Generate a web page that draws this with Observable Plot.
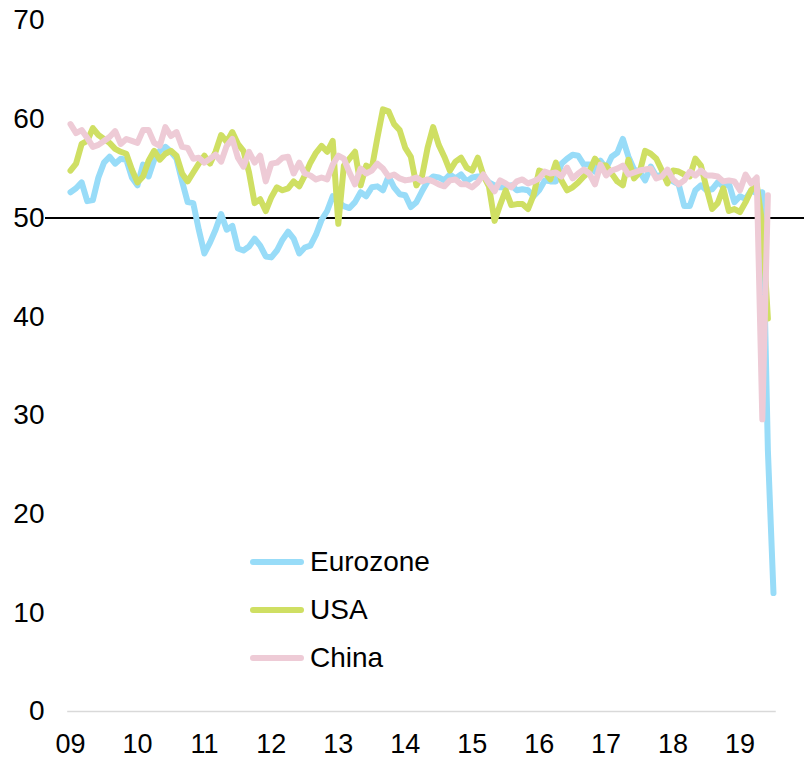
<!DOCTYPE html>
<html><head><meta charset="utf-8">
<script src="https://cdn.jsdelivr.net/npm/d3@7"></script>
<script src="https://cdn.jsdelivr.net/npm/@observablehq/plot@0.6"></script>
<style>
body{margin:0;background:#fff;font-family:"Liberation Sans",Arial,sans-serif;}
#wrap{position:relative;width:804px;height:759px;}
#legend{position:absolute;left:250px;top:538px;}
.item{display:flex;align-items:center;height:48px;font-size:28px;color:#000;line-height:1;}
.sw{width:54px;height:6px;border-radius:3px;margin-right:6px;}
</style></head><body><div id="wrap"><div id="chart"></div><div id="legend"></div></div>
<script>
const seriesNames = ["Eurozone", "USA", "China"];
const seriesColors = ["#98dcf8", "#cfdf63", "#eecbd6"];

// Monthly values, first point = first category (label "09")
const eurozone = [52.6, 53.0, 53.6,
  51.7, 51.8, 54.1, 55.6, 56.2, 55.5, 56.0, 55.9, 54.1, 53.3, 55.4, 54.2,
  55.9, 56.8, 57.2, 56.7, 56.0, 53.7, 51.6, 51.5, 48.8, 46.4, 47.5, 48.8,
  50.4, 48.8, 49.2, 46.9, 46.7, 47.1, 47.9, 47.2, 46.1, 46.0, 46.7, 47.8,
  48.6, 47.9, 46.4, 47.0, 47.2, 48.3, 49.8, 50.7, 52.2, 51.6, 51.2, 51.0,
  51.6, 52.6, 52.2, 53.1, 53.2, 52.8, 54.2, 53.1, 52.4, 52.3, 51.1, 51.6,
  52.7, 53.7, 54.2, 54.1, 53.8, 54.4, 54.0, 54.4, 53.7, 54.1, 54.2, 54.2,
  53.6, 53.3, 53.1, 53.1, 53.3, 52.8, 52.9, 52.8, 52.2, 52.8, 53.8, 53.7,
  53.7, 55.5, 56.0, 56.4, 56.3, 55.4, 55.4, 54.7, 55.8, 55.0, 56.2, 56.6,
  58.0, 56.2, 54.9, 54.7, 53.8, 55.2, 54.2, 54.4, 54.7, 53.7, 53.4, 51.2,
  51.2, 52.8, 53.3, 52.8, 52.9, 53.6, 53.2, 53.5, 51.6, 52.2, 51.9, 52.8,
  52.5, 52.6, 26.4, 12.0];

const usa = [54.8, 55.5, 57.5, 57.8, 59.1, 58.4, 58.0, 57.6, 57.0, 56.7,
  56.5, 54.9, 53.6, 54.2, 55.8, 56.8, 55.9, 56.5, 56.8, 56.3,
  54.5, 53.7, 54.6, 55.5, 56.3, 55.5, 56.7, 58.4, 57.7, 58.7,
  57.5, 56.8, 54.6, 51.5, 51.9, 50.7, 52.1, 53.1, 52.8, 53.0,
  53.7, 53.2, 54.3, 55.6, 56.6, 57.3, 56.7, 57.8, 49.4, 55.3, 56.0,
  56.7, 53.3, 55.3, 55.0, 58.1, 61.0, 60.8, 59.5, 58.9, 57.1, 56.2, 53.3,
  54.2, 57.1, 59.2, 57.4, 56.2, 54.8, 55.7, 56.1, 55.1, 54.8, 56.1, 54.3,
  53.2, 49.7, 51.3, 52.8, 51.3, 51.4, 51.4, 50.9, 52.3, 54.8, 54.6, 53.9,
  55.6, 53.8, 52.8, 53.1, 53.6, 54.2, 54.7, 56.0, 55.3, 55.3, 54.5, 53.7,
  53.3, 55.9, 54.0, 54.6, 56.8, 56.5, 56.0, 54.8, 53.5, 54.8, 54.7, 54.4,
  54.2, 56.0, 55.3, 53.0, 50.9, 51.5, 53.0, 50.7, 50.9, 50.6, 51.6, 52.8,
  53.4, 49.4, 39.8];

const china = [59.5, 58.6, 58.9, 58.1, 57.2, 57.4, 57.8, 58.2, 58.8, 57.5,
  58.0, 57.8, 57.6, 58.9, 58.9, 57.6, 57.3, 59.2, 58.3, 58.7,
  57.2, 57.1, 56.0, 56.1, 55.6, 56.0, 56.4, 55.7, 57.3, 58.0,
  56.1, 55.2, 56.7, 55.6, 56.3, 53.7, 55.5, 55.6, 56.1,
  56.2, 54.5, 55.6, 54.5, 54.3, 53.9, 54.1, 53.9, 55.4, 56.3, 56.0, 54.6,
  53.4, 55.0, 54.5, 54.8, 55.5, 55.0, 54.2, 54.4, 54.0, 53.8, 53.9, 54.1,
  53.7, 53.9, 53.7, 53.4, 53.2, 53.8, 53.9, 53.4, 53.4, 53.1, 53.6, 54.4,
  53.5, 52.7, 53.8, 53.5, 53.1, 53.7, 53.9, 53.5, 53.7, 54.0, 54.7, 54.5,
  54.6, 54.2, 55.1, 54.0, 54.5, 54.9, 54.5, 53.4, 55.4, 54.3, 54.8, 55.0,
  55.3, 54.4, 54.6, 54.8, 54.9, 55.0, 54.0, 54.2, 54.9, 53.9, 53.4, 53.8,
  54.7, 54.3, 54.8, 54.3, 54.3, 54.2, 53.7, 53.8, 53.7, 52.8, 54.4, 53.5,
  54.1, 29.6, 52.3];

const xTickIndex = [0, 12, 24, 36, 48, 60, 72, 84, 96, 108, 120];
const xTickLabels = ["09", "10", "11", "12", "13", "14", "15", "16", "17", "18", "19"];
const yTicks = [0, 10, 20, 30, 40, 50, 60, 70];
const threshold = 50;

const allSeries = [eurozone, usa, china];
const toRows = (vals, name) => vals.map((v, i) => ({series: name, i, value: v}));
const nCat = eurozone.length;

const font = '"Liberation Sans", Arial, sans-serif';
const chart = Plot.plot({
  width: 804,
  height: 759,
  marginLeft: 45,
  marginRight: 0,
  marginTop: 20,
  marginBottom: 48,
  x: {domain: [-4.48, 131.56]},
  y: {domain: [0, 70]},
  style: {fontFamily: font, fontSize: "28px", background: "#fff", color: "#000"},
  marks: [
    Plot.axisY({ticks: yTicks, tickSize: 0, tickPadding: 1, label: null, fontSize: 28}),
    Plot.axisX({ticks: xTickIndex, tickFormat: d => xTickLabels[xTickIndex.indexOf(d)], tickSize: 0, tickPadding: 22, label: null, fontSize: 27}),
    Plot.ruleY([0], {x1: -0.5, x2: nCat - 0.5, stroke: "#d9d9d9", strokeWidth: 1.5}),
    Plot.ruleY([threshold], {stroke: "#000", strokeWidth: 2}),
    ...allSeries.map((vals, k) => Plot.line(toRows(vals, seriesNames[k]), {
      x: "i", y: "value", stroke: seriesColors[k], strokeWidth: 6,
      strokeLinejoin: "round", strokeLinecap: "round"
    }))
  ]
});
document.getElementById("chart").appendChild(chart);

const legend = document.getElementById("legend");
seriesNames.forEach((name, k) => {
  const item = document.createElement("div");
  item.className = "item";
  const sw = document.createElement("div");
  sw.className = "sw";
  sw.style.background = seriesColors[k];
  const label = document.createElement("span");
  label.textContent = name;
  item.appendChild(sw);
  item.appendChild(label);
  legend.appendChild(item);
});
</script>
</body></html>
